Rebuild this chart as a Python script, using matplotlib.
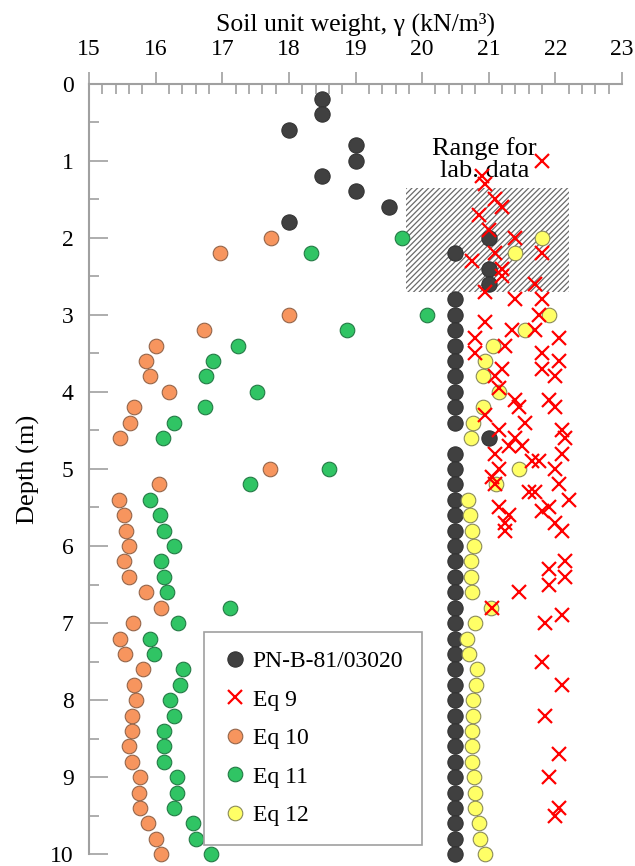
import matplotlib.pyplot as plt
from matplotlib.patches import Rectangle

plt.rcParams['font.family'] = ['Liberation Serif', 'DejaVu Serif']
plt.rcParams['hatch.linewidth'] = 0.9

# PN-B-81/03020 unit weights, every 0.2 m
depth_pn = [0.2, 0.4, 0.6, 0.8, 1.0, 1.2, 1.4, 1.6, 1.8, 2.0, 2.2, 2.4, 2.6,
            2.8, 3.0, 3.2, 3.4, 3.6, 3.8, 4.0, 4.2, 4.4, 4.6, 4.8, 5.0, 5.2,
            5.4, 5.6, 5.8, 6.0, 6.2, 6.4, 6.6, 6.8, 7.0, 7.2, 7.4, 7.6, 7.8,
            8.0, 8.2, 8.4, 8.6, 8.8, 9.0, 9.2, 9.4, 9.6, 9.8, 10.0]
gamma_pn = [18.5, 18.5, 18.0, 19.0, 19.0, 18.5, 19.0, 19.5, 18.0, 21.0, 20.5,
            21.0, 21.0, 20.5, 20.5, 20.5, 20.5, 20.5, 20.5, 20.5, 20.5, 20.5,
            21.0, 20.5, 20.5, 20.5, 20.5, 20.5, 20.5, 20.5, 20.5, 20.5, 20.5,
            20.5, 20.5, 20.5, 20.5, 20.5, 20.5, 20.5, 20.5, 20.5, 20.5, 20.5,
            20.5, 20.5, 20.5, 20.5, 20.5, 20.5]

# Eq 9 (CPT based)
depth_eq9 = [1.0, 1.2, 1.3, 1.5, 1.6, 1.7, 1.9, 2.0, 2.2, 2.2, 2.3, 2.4, 2.5,
             2.6, 2.7, 2.8, 2.8, 3.0, 3.1, 3.2, 3.2, 3.3, 3.3, 3.4, 3.5, 3.5,
             3.6, 3.7, 3.7, 3.8, 3.8, 3.95, 4.1, 4.1, 4.2, 4.2, 4.3, 4.4, 4.5,
             4.5, 4.6, 4.6, 4.7, 4.7, 4.8, 4.8, 4.9, 4.9, 5.0, 5.0, 5.1, 5.2,
             5.2, 5.3, 5.3, 5.4, 5.5, 5.5, 5.55, 5.6, 5.7, 5.7, 5.8, 5.8, 6.2,
             6.3, 6.4, 6.5, 6.6, 6.8, 6.9, 7.0, 7.5, 7.8, 8.2, 8.7, 9.0, 9.4,
             9.5]
gamma_eq9 = [21.8, 20.9, 20.95, 21.1, 21.2, 20.85, 21.0, 21.4, 21.1, 21.8,
             20.75, 21.2, 21.2, 21.7, 20.95, 21.4, 21.8, 21.75, 20.95, 21.35,
             21.7, 22.05, 20.8, 21.25, 20.8, 21.8, 22.05, 21.8, 21.2, 22.0,
             21.1, 21.15, 21.4, 21.9, 21.45, 22.0, 20.95, 21.55, 21.15, 22.1,
             22.15, 21.4, 21.3, 21.5, 21.1, 22.1, 21.65, 21.75, 21.15, 22.0,
             21.05, 22.05, 21.1, 21.6, 21.7, 22.2, 21.15, 21.9, 21.8, 21.3,
             21.25, 22.0, 21.25, 22.1, 22.15, 21.9, 22.15, 21.9, 21.45, 21.05,
             22.1, 21.85, 21.8, 22.1, 21.85, 22.05, 21.9, 22.05, 22.0]

depth_eq = [2.0, 2.2, 3.0, 3.2, 3.4, 3.6, 3.8, 4.0, 4.2, 4.4, 4.6, 5.0, 5.2,
            5.4, 5.6, 5.8, 6.0, 6.2, 6.4, 6.6, 6.8, 7.0, 7.2, 7.4, 7.6, 7.8,
            8.0, 8.2, 8.4, 8.6, 8.8, 9.0, 9.2, 9.4, 9.6, 9.8, 10.0]
gamma_eq10 = [17.73, 16.96, 18.0, 16.72, 16.01, 15.86, 15.92, 16.2, 15.67,
              15.61, 15.47, 17.71, 16.05, 15.45, 15.53, 15.55, 15.6, 15.53,
              15.6, 15.85, 16.08, 15.66, 15.46, 15.54, 15.81, 15.68, 15.7,
              15.64, 15.64, 15.6, 15.65, 15.77, 15.75, 15.76, 15.88, 16.0,
              16.08]
gamma_eq11 = [19.7, 18.33, 20.07, 18.87, 17.23, 16.86, 16.76, 17.52, 16.74,
              16.27, 16.11, 18.6, 17.41, 15.92, 16.06, 16.12, 16.27, 16.08,
              16.12, 16.17, 17.11, 16.33, 15.91, 15.98, 16.41, 16.37, 16.21,
              16.27, 16.13, 16.13, 16.13, 16.32, 16.32, 16.28, 16.56, 16.6,
              16.83]
gamma_eq12 = [21.8, 21.4, 21.9, 21.54, 21.06, 20.95, 20.92, 21.16, 20.91,
              20.77, 20.73, 21.46, 21.11, 20.69, 20.72, 20.75, 20.78, 20.73,
              20.73, 20.75, 21.03, 20.8, 20.68, 20.7, 20.83, 20.81, 20.76,
              20.77, 20.75, 20.75, 20.75, 20.78, 20.8, 20.79, 20.85, 20.87,
              20.94]

# lab data range (gamma min/max, depth top/bottom)
lab_gamma = [19.75, 22.2]
lab_depth = [1.35, 2.7]

fig = plt.figure(figsize=(6.35, 8.66), dpi=100)
ax = fig.add_axes([0.1402, 0.0135, 0.8394, 0.890])

ax.add_patch(Rectangle((lab_gamma[0], lab_depth[0]), lab_gamma[1] - lab_gamma[0],
                       lab_depth[1] - lab_depth[0], facecolor='white',
                       edgecolor='#6a6a6a', hatch='//////', linewidth=0, zorder=1))
ax.text(20.94, 0.99, 'Range for\nlab. data', ha='center', va='center',
        fontsize=19, linespacing=1.0, zorder=2)

ax.plot(gamma_pn, depth_pn, 'o', ms=11, mfc='#404040', mec='#333333', mew=0.8,
        clip_on=False, zorder=3, label='PN-B-81/03020')
ax.plot(gamma_eq9, depth_eq9, 'x', ms=10, color='#ff0000', mew=1.6,
        clip_on=False, zorder=6, label='Eq 9')
ax.plot(gamma_eq10, depth_eq, 'o', ms=10.5, mfc='#f7955e', mec='#94654a',
        mew=0.8, clip_on=False, zorder=4, label='Eq 10')
ax.plot(gamma_eq11, depth_eq, 'o', ms=10.5, mfc='#30c464', mec='#237a45',
        mew=0.8, clip_on=False, zorder=4, label='Eq 11')
ax.plot(gamma_eq12, depth_eq, 'o', ms=10.5, mfc='#ffff66', mec='#8a8a5a',
        mew=0.8, clip_on=False, zorder=5, label='Eq 12')

ax.set_xlim(15, 23)
ax.set_ylim(10, 0)
ax.xaxis.tick_top()
ax.xaxis.set_label_position('top')
ax.set_xticks(range(15, 24))
ax.set_xticks([15 + 0.2 * i for i in range(41)], minor=True)
ax.set_yticks(range(0, 11))
ax.set_yticks([0.5 + i for i in range(10)], minor=True)

for side in ['right', 'bottom']:
    ax.spines[side].set_visible(False)
for side in ['left', 'top']:
    ax.spines[side].set_color('#a0a0a0')
    ax.spines[side].set_linewidth(1.5)

ax.tick_params(axis='x', which='major', direction='out', length=9, width=1.2,
               color='#a0a0a0', labelsize=17, pad=8)
ax.tick_params(axis='x', which='minor', direction='in', length=7, width=1.2,
               color='#a0a0a0')
ax.tick_params(axis='y', which='major', direction='in', length=14, width=1.2,
               color='#a0a0a0', labelsize=17, pad=11)
ax.tick_params(axis='y', which='minor', direction='in', length=7, width=1.2,
               color='#a0a0a0')

ax.set_xlabel('Soil unit weight, γ (kN/m³)', fontsize=18.5, labelpad=6)
ax.set_ylabel('Depth (m)', fontsize=19, labelpad=7)

leg = ax.legend(loc='lower left', bbox_to_anchor=(0.216, 0.012), fontsize=17,
                frameon=True, fancybox=False, framealpha=1, borderpad=0.8,
                labelspacing=0.72, handletextpad=0.25, handlelength=1.0,
                borderaxespad=0)
leg.get_frame().set_edgecolor('#a0a0a0')
leg.get_frame().set_linewidth(1.2)

plt.savefig('out.png', dpi=100)
